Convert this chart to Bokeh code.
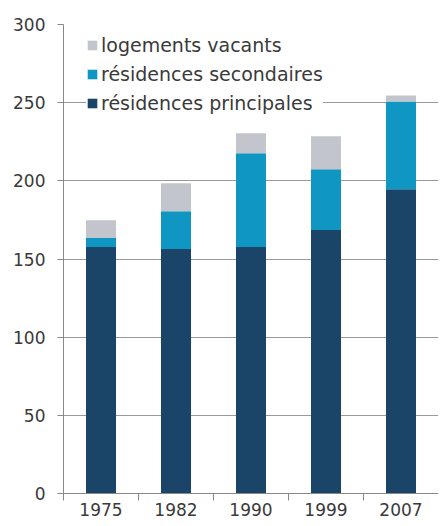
from bokeh.plotting import figure
from bokeh.models import Range1d, FixedTicker, Legend, LegendItem
from bokeh.embed import file_html
from bokeh.resources import INLINE

years = ["1975", "1982", "1990", "1999", "2007"]
principales = [157.6, 156.4, 157.6, 168.5, 194.6]
secondaires = [5.8, 24.2, 60.0, 38.9, 56.2]
vacants = [11.4, 17.9, 12.8, 21.1, 3.8]
y_ticks = [0, 50, 100, 150, 200, 250, 300]

colors = {"principales": "#1a4568", "secondaires": "#1096c2", "vacants": "#c2c6cc"}
FONT = "DejaVu Sans"
TXT = "#3a3a3a"

xpos = [i + 0.5 for i in range(len(years))]
data = dict(x=xpos, principales=principales, secondaires=secondaires, vacants=vacants)

p = figure(width=438, height=518, output_backend="svg", toolbar_location=None,
           x_range=Range1d(0, len(years)), y_range=Range1d(0, 300),
           min_border_left=63, min_border_right=0, min_border_top=24, min_border_bottom=24)
p.outline_line_color = None

r = p.vbar_stack(["principales", "secondaires", "vacants"], x="x", width=0.4, source=data,
                 color=[colors["principales"], colors["secondaires"], colors["vacants"]],
                 line_color=None)

p.xaxis.ticker = FixedTicker(ticks=xpos, minor_ticks=list(range(len(years) + 1)))
p.xaxis.major_label_overrides = {x: y for x, y in zip(xpos, years)}
p.xaxis.major_tick_line_color = None
p.xaxis.major_tick_in = 0
p.xaxis.major_tick_out = 0
p.xaxis.minor_tick_line_color = "#888888"
p.xaxis.minor_tick_in = 0
p.xaxis.minor_tick_out = 7
p.xaxis.major_label_standoff = 2
p.xgrid.grid_line_color = None

p.yaxis.ticker = FixedTicker(ticks=y_ticks)
p.yaxis.minor_tick_line_color = None
p.yaxis.major_tick_in = 0
p.yaxis.major_tick_out = 6
p.yaxis.major_tick_line_color = "#888888"
p.yaxis.major_label_standoff = 12
p.ygrid.grid_line_color = "#9a9a9a"
p.ygrid.grid_line_width = 1

for ax in (p.xaxis, p.yaxis):
    ax.axis_line_color = "#888888"
    ax.major_label_text_font = FONT
    ax.major_label_text_font_size = "17px"
    ax.major_label_text_color = TXT

legend = Legend(items=[
    LegendItem(label="logements vacants", renderers=[r[2]]),
    LegendItem(label="résidences secondaires", renderers=[r[1]]),
    LegendItem(label="résidences principales", renderers=[r[0]]),
], location=(23, 379))
legend.label_text_font = FONT
legend.label_text_font_size = "19px"
legend.label_text_color = TXT
legend.glyph_width = 12
legend.glyph_height = 12
legend.label_standoff = 3
legend.label_height = 22
legend.spacing = 7
legend.padding = 5
legend.margin = 0
legend.border_line_color = None
legend.background_fill_color = "white"
legend.background_fill_alpha = 1
p.add_layout(legend, "center")

open("out.html", "w").write(file_html(p, INLINE))
